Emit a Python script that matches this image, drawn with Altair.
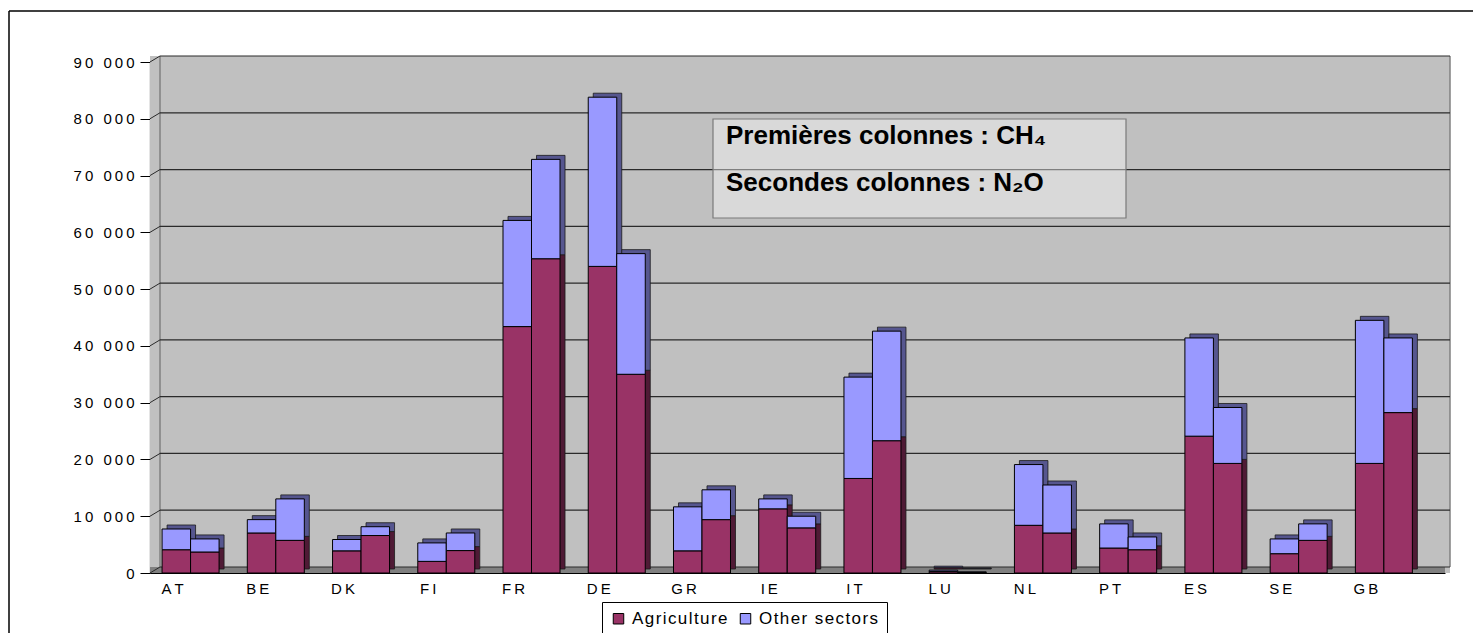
import json

import altair as alt
import pandas as pd

# Emissions by country (thousand t CO2 eq.), first column CH4, second column N2O
countries = ["AT", "BE", "DK", "FI", "FR", "DE", "GR", "IE", "IT", "LU", "NL", "PT", "ES", "SE", "GB"]
sectors = ["Agriculture", "Other sectors"]
ch4_agriculture = [4100, 7050, 3900, 2050, 43400, 54000, 3900, 11300, 16650, 250, 8400, 4400, 24100, 3400, 19300]
ch4_other = [3650, 2350, 2000, 3250, 18700, 29800, 7750, 1750, 17850, 250, 10700, 4250, 17300, 2600, 25200]
n2o_agriculture = [3700, 5750, 6600, 3950, 55350, 35000, 9400, 7950, 23300, 100, 7050, 4100, 19300, 5750, 28250]
n2o_other = [2300, 7300, 1550, 3100, 17500, 21250, 5250, 2050, 19300, 100, 8450, 2250, 9850, 2900, 13150]
y_ticks = [0, 10000, 20000, 30000, 40000, 50000, 60000, 70000, 80000, 90000]
note_lines = ["Premières colonnes : CH₄", "Secondes colonnes : N₂O"]

rows = []
for gas, agri, other in (("CH4", ch4_agriculture, ch4_other), ("N2O", n2o_agriculture, n2o_other)):
    for country, a, o in zip(countries, agri, other):
        rows.append({"country": country, "gas": gas, "sector": sectors[0], "rank": 0, "value": a})
        rows.append({"country": country, "gas": gas, "sector": sectors[1], "rank": 1, "value": o})
emissions = pd.DataFrame(rows)
grid = pd.DataFrame({"tick": y_ticks})
one = pd.DataFrame({"k": [0]})

W, H = 1295, 511
FONT = "Liberation Sans"
LABEL_SIZE = 15
front_colors = ["#993366", "#9999FF"]
side_colors = ["#4F1A35", "#56568F"]
HALF = 14.25  # half of one column's width
DEPTH_X, DEPTH_Y = 5, -4


def spaced(text, gap="\u2009"):
    """Letter-spaced label text (narrow space between characters)."""
    return gap.join(text)


def js(values):
    return json.dumps(values, ensure_ascii=False)


# label lookups: spaced versions of the category names and tick values
x_label_expr = f"{js([spaced(c) for c in countries])}[indexof({js(countries)}, datum.value)]"
y_label_expr = f"{js([spaced(f'{v:,}'.replace(',', ' ')) for v in y_ticks])}[round(datum.value / 10000)]"
legend_label_expr = f"{js([spaced(s, chr(0x200A)) for s in sectors])}[indexof({js(sectors)}, datum.value)]"

x_scale = alt.Scale(domain=countries, paddingInner=0.331, paddingOuter=0.262, align=0.27)
y_scale = alt.Scale(domain=[0, 90000], nice=False, zero=True)

# the same guide definitions go on every layer that uses the scale, so they merge cleanly
x_axis = alt.Axis(
    title=None, ticks=False, domainColor="black", domainWidth=1.2, labelAngle=0,
    labelOffset=-18, labelPadding=8, labelFontSize=LABEL_SIZE, labelFont=FONT, labelColor="black",
    labelExpr=x_label_expr, grid=False,
)
y_axis = alt.Axis(
    title=None, values=y_ticks, grid=False, tickSize=10, tickColor="black",
    domainColor="black", domainWidth=1.2, labelPadding=6, labelFontSize=LABEL_SIZE, labelFont=FONT,
    labelColor="black", labelExpr=y_label_expr,
)
legend = alt.Legend(
    title=None, orient="none", legendX=452, legendY=540, direction="horizontal",
    fillColor="white", strokeColor="black", padding=8, symbolType="square",
    symbolSize=110, symbolStrokeColor="black", symbolStrokeWidth=1,
    labelFontSize=17, labelFont=FONT, labelColor="black", labelOffset=5,
    columnPadding=9, labelExpr=legend_label_expr,
)


def columns(gas, shift, shadow):
    base = alt.Chart(emissions).transform_filter(alt.datum.gas == gas)
    mark = base.mark_bar(
        width=alt.RelativeBandSize(0.5),
        xOffset=shift + (DEPTH_X if shadow else 0),
        yOffset=DEPTH_Y if shadow else 0,
        stroke="#1a1a1a" if shadow else "black",
        strokeWidth=0.8 if shadow else 1,
    )
    enc = dict(
        x=alt.X("country:N", sort=countries, scale=x_scale, axis=x_axis),
        y=alt.Y("value:Q", stack="zero", scale=y_scale, axis=y_axis),
        order=alt.Order("rank:Q"),
    )
    if shadow:
        # side faces: domain taken from the data so this scale keeps its own (hidden) legend
        enc["fill"] = alt.Fill("sector:N", scale=alt.Scale(range=side_colors), legend=None)
    else:
        enc["color"] = alt.Color("sector:N", scale=alt.Scale(domain=sectors, range=front_colors), legend=legend)
    return mark.encode(**enc)


def edge(x_px):
    return alt.Chart(one).mark_rule(color="#808080", strokeWidth=1.5).encode(
        x=alt.value(x_px), y=alt.value(-6), y2=alt.value(H - 6)
    )


# back wall, side wall and floor of the 3D plot box
back_wall = alt.Chart(one).mark_rect(fill="#C0C0C0").encode(
    x=alt.value(0), x2=alt.value(W + 5), y=alt.value(-6), y2=alt.value(H)
)
floor = alt.Chart(one).mark_rect(fill="#808080").encode(
    x=alt.value(0), x2=alt.value(W), y=alt.value(H - 6), y2=alt.value(H)
)
gridlines = alt.Chart(grid).mark_rule(color="#2a2a2a", strokeWidth=1.2, yOffset=-6).encode(
    x=alt.value(10), x2=alt.value(W + 5), y=alt.Y("tick:Q", scale=y_scale, axis=y_axis)
)
tick_links = alt.Chart(grid).mark_rule(color="#2a2a2a", strokeWidth=1, y2Offset=-6).encode(
    x=alt.value(0), x2=alt.value(10),
    y=alt.Y("tick:Q", scale=y_scale, axis=y_axis), y2="tick:Q",
)

note_box = alt.Chart(one).mark_rect(fill="white", fillOpacity=0.4, stroke="#7a7a7a", strokeWidth=1.2).encode(
    x=alt.value(563), x2=alt.value(976), y=alt.value(57), y2=alt.value(156)
)
note_1 = alt.Chart(one).mark_text(
    align="left", baseline="alphabetic", font=FONT, fontSize=26, fontWeight="bold", color="black"
).encode(x=alt.value(576), y=alt.value(82), text=alt.value(note_lines[0]))
note_2 = alt.Chart(one).mark_text(
    align="left", baseline="alphabetic", font=FONT, fontSize=26, fontWeight="bold", color="black"
).encode(x=alt.value(576), y=alt.value(129), text=alt.value(note_lines[1]))

frame_top = alt.Chart(one).mark_rule(color="black", strokeWidth=1.5).encode(
    x=alt.value(-141), x2=alt.value(W + 40), y=alt.value(-51)
)
frame_left = alt.Chart(one).mark_rule(color="black", strokeWidth=1.5).encode(
    x=alt.value(-141), y=alt.value(-51), y2=alt.value(H + 70)
)

chart = alt.layer(
    back_wall, floor, edge(10), edge(W + 5), gridlines, tick_links,
    columns("CH4", -HALF, True), columns("N2O", HALF, True),
    columns("CH4", -HALF, False), columns("N2O", HALF, False),
    note_box, note_1, note_2, frame_top, frame_left,
).properties(
    width=W, height=H,
    autosize=alt.AutoSizeParams(type="none"),
    padding={"left": 150, "top": 62, "right": 28, "bottom": 60},
    background="white",
).configure_view(stroke=None)

chart.save("out.html", embed_options={"renderer": "svg", "actions": False})
